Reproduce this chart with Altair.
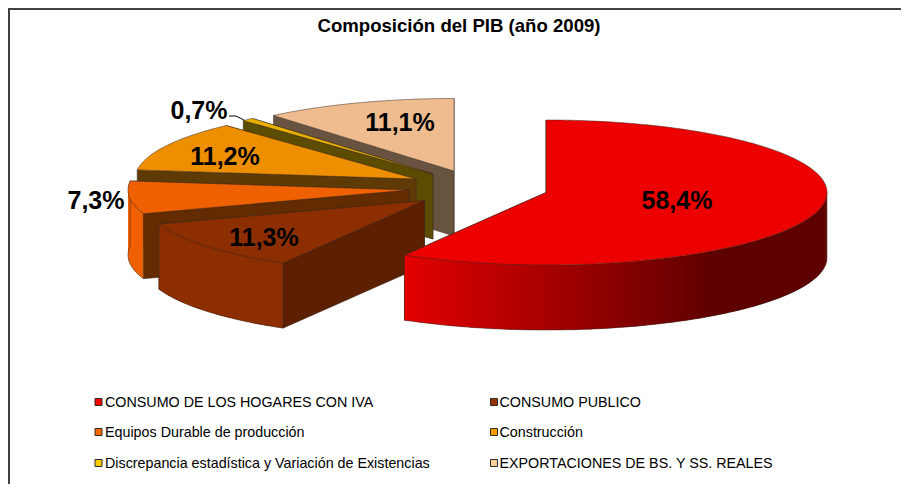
import math
import altair as alt

WIDTH, HEIGHT = 893, 476
ORIGIN = 8

title_text = "Composición del PIB (año 2009)"
categories = ["CONSUMO DE LOS HOGARES CON IVA", "CONSUMO PUBLICO", "Equipos Durable de producción",
              "Construcción", "Discrepancia estadística y Variación de Existencias",
              "EXPORTACIONES DE BS. Y SS. REALES"]
shares = [58.4, 11.3, 7.3, 11.2, 0.7, 11.1]
labels = ["58,4%", "11,3%", "7,3%", "11,2%", "0,7%", "11,1%"]
label_x = [677, 264, 96, 225, 199, 400]
label_y = [201, 238, 201, 157, 111, 123]
apex_x = [546, 424.5, 409, 416, 433, 454]
apex_y = [192.5, 200.5, 190, 179, 174, 171]
top_colors = ["#ec0000", "#8c2e00", "#ee6000", "#ee8f00", "#e8b000", "#eebc8e"]
rim_colors = ["#e00000", "#8c2e00", "#f06000", "#ee8f00", "#e8b000", "#eebc8e"]
wall_colors = ["#600000", "#5c2000", "#622b00", "#5e3a05", "#5c4c00", "#67533f"]
legend_colors = ["#ff0000", "#993300", "#ff6600", "#ff9900", "#ffcc00", "#ffcc99"]
legend_x = [98.5, 494, 98.5, 494, 98.5, 494]
legend_y = [402, 402, 432, 432, 463, 463]
legend_text_x = [105, 499.5, 105, 499.5, 105, 499.5]
RX, RY, DEPTH = 281, 72.5, 65
EDGE = "#3c2a20"


def pt(i, deg, dy=0.0):
    r = math.radians(deg)
    return [apex_x[i] + RX * math.sin(r), apex_y[i] - RY * math.cos(r) + dy]


def polygon(coords, fill, stroke, sw):
    geom = {"type": "Polygon", "coordinates": [coords + [coords[0]]]}
    return {"type": "Feature", "geometry": geom, "properties": {"f": fill, "s": stroke, "w": sw}}


def polyline(coords, stroke, sw):
    geom = {"type": "LineString", "coordinates": coords}
    return {"type": "Feature", "geometry": geom, "properties": {"f": "none", "s": stroke, "w": sw}}


def shade_red(x):
    t = max(0.0, min(1.0, (x - 404) / (715 - 404)))
    return "#%02x0000" % int(228 + (95 - 228) * t)


angles = []
start = 0.0
for s in shares:
    angles.append((start, start + s * 3.6))
    start += s * 3.6

polys = []
for i in [5, 4, 3, 2, 1, 0]:
    a0, a1 = angles[i]
    apex = [apex_x[i], apex_y[i]]
    low = [apex_x[i], apex_y[i] + DEPTH]
    for a in (a1, a0):
        polys.append(polygon([apex, pt(i, a), pt(i, a, DEPTH), low], wall_colors[i], EDGE, 0.5))
    steps = max(2, int(a1 - a0))
    angs = [a0 + (a1 - a0) * k / steps for k in range(steps + 1)]
    if i <= 2:
        rim = [a for a in angs if a >= 90]
        for k in range(len(rim) - 1):
            b0, b1 = rim[k], rim[min(k + 2, len(rim) - 1)]
            col = shade_red(pt(i, (b0 + rim[k + 1]) / 2)[0]) if i == 0 else rim_colors[i]
            arc = [pt(i, b0), pt(i, rim[k + 1]), pt(i, b1)]
            polys.append(polygon(arc + [pt(i, b1, DEPTH), pt(i, rim[k + 1], DEPTH), pt(i, b0, DEPTH)],
                                 col, "none", 0))
        polys.append(polyline([pt(i, b, DEPTH) for b in rim], EDGE, 0.5))
        polys.append(polyline([pt(i, rim[-1]), pt(i, rim[-1], DEPTH)], EDGE, 0.5))
        polys.append(polyline([pt(i, rim[0]), pt(i, rim[0], DEPTH)], EDGE, 0.5))
    polys.append(polygon([apex] + [pt(i, a) for a in angs], top_colors[i], EDGE, 0.5))

frame = [polyline([[ORIGIN + 1, ORIGIN + HEIGHT], [ORIGIN + 1, ORIGIN + 1], [ORIGIN + WIDTH, ORIGIN + 1]],
                  "#404040", 2)]
features = frame + polys

projection = alt.Projection(type="identity", scale=1, translate=[-ORIGIN, -ORIGIN])
shapes = alt.Chart(alt.InlineData(values={"type": "FeatureCollection", "features": features},
                                  format=alt.DataFormat(property="features", type="json"))).mark_geoshape(
    clip=False
).encode(
    fill=alt.Fill("properties.f:N", scale=None),
    stroke=alt.Stroke("properties.s:N", scale=None),
    strokeWidth=alt.StrokeWidth("properties.w:Q", scale=None),
).project(**projection.to_dict())

x_scale = alt.Scale(domain=[ORIGIN, ORIGIN + WIDTH], range=[0, WIDTH], nice=False, zero=False)
y_scale = alt.Scale(domain=[ORIGIN, ORIGIN + HEIGHT], range=[0, HEIGHT], nice=False, zero=False)
X = lambda f: alt.X(f, type="quantitative", scale=x_scale, axis=None)
Y = lambda f: alt.Y(f, type="quantitative", scale=y_scale, axis=None)

pct_data = alt.Data(values=[{"t": t, "x": x, "y": y} for t, x, y in zip(labels, label_x, label_y)])
pct = alt.Chart(pct_data).mark_text(font="Liberation Sans", fontWeight="bold", fontSize=25, color="#000000",
                                    baseline="middle", align="center").encode(x=X("x"), y=Y("y"), text="t:N")

leader_data = alt.Data(values=[{"x": 229, "y": 116, "k": 0}, {"x": 236, "y": 116, "k": 1}, {"x": 244, "y": 120, "k": 2}])
leader = alt.Chart(leader_data).mark_line(color="#000000", strokeWidth=1).encode(x=X("x"), y=Y("y"), order="k:Q")

title = alt.Chart(alt.Data(values=[{"t": title_text, "x": 459, "y": 26}])).mark_text(
    font="Liberation Sans", fontWeight="bold", fontSize=18.6, color="#000000", baseline="middle", align="center"
).encode(x=X("x"), y=Y("y"), text="t:N")

leg_rows = [{"t": t, "x": x, "y": y, "c": c, "tx": tx, "ty": y + 1}
            for t, x, y, c, tx in zip(categories, legend_x, legend_y, legend_colors, legend_text_x)]
leg_marks = alt.Chart(alt.Data(values=leg_rows)).mark_square(size=49, strokeWidth=1, stroke="#2b2b2b", opacity=1).encode(
    x=X("x"), y=Y("y"), fill=alt.Fill("c:N", scale=None))
leg_text = alt.Chart(alt.Data(values=leg_rows)).mark_text(
    font="Liberation Sans", fontSize=14.3, color="#000000", baseline="middle", align="left"
).encode(x=X("tx"), y=Y("ty"), text="t:N")

chart = alt.layer(shapes, leader, pct, title, leg_marks, leg_text).properties(
    width=WIDTH, height=HEIGHT, padding=0, autosize=alt.AutoSizeParams(type="none"),
    background="#ffffff"
).configure_view(stroke=None)

chart.save("out.html", embed_options={"renderer": "svg", "actions": False})
